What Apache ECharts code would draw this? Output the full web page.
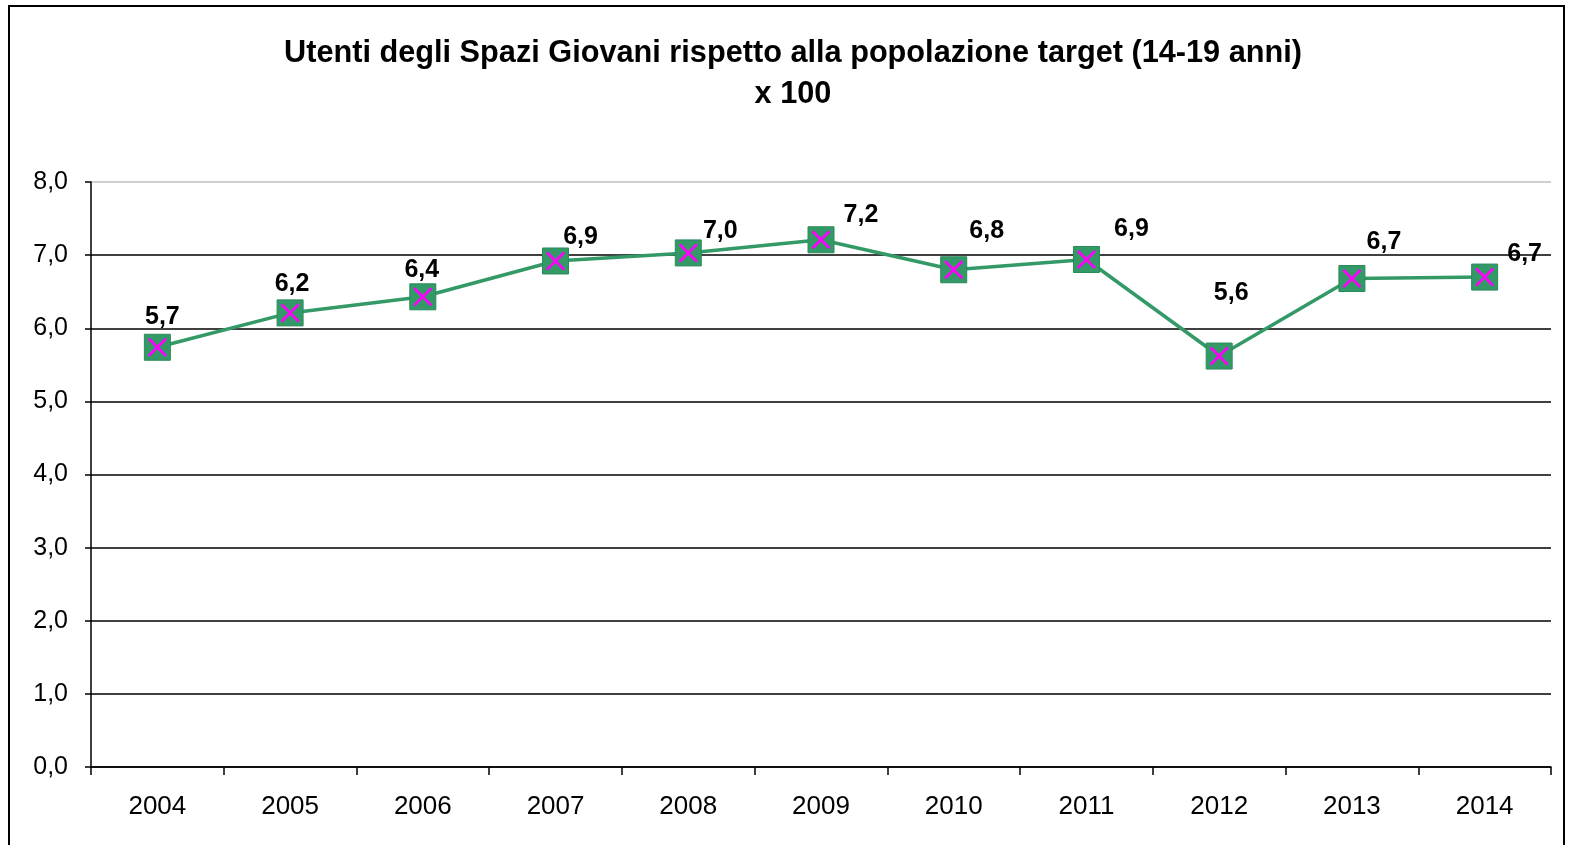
<!DOCTYPE html>
<html>
<head>
<meta charset="utf-8">
<script src="https://cdn.jsdelivr.net/npm/echarts@6/dist/echarts.min.js"></script>
<style>html,body{margin:0;padding:0;background:#fff}#c{width:1569px;height:845px}</style>
</head>
<body>
<div id="c"></div>
<script>
const categories = ['2004','2005','2006','2007','2008','2009','2010','2011','2012','2013','2014'];
const values = [5.74, 6.21, 6.43, 6.92, 7.03, 7.21, 6.80, 6.94, 5.62, 6.68, 6.70];
const yTicks = [0, 1, 2, 3, 4, 5, 6, 7, 8];
const titleText = 'Utenti degli Spazi Giovani rispetto alla popolazione target (14-19 anni)\nx 100';

// label placement offsets (style, not data)
const labelShift = [[5,-30],[2,-29],[-1,-27],[25,-24],[32,-22],[40,-25],[33,-39],[45,-30],[12,-63],[32,-36],[40,-23]];

const fmt = v => v.toFixed(1).replace('.', ',');
const FONT = '"Liberation Sans", Arial, sans-serif';
const green = '#339966';
const xPath = 'path://M0,1L1,0L10,9L9,10Z M9,0L10,1L1,10L0,9Z';

const chart = echarts.init(document.getElementById('c'), null, {renderer:'canvas'});
chart.setOption({
  animation: false,
  backgroundColor: '#fff',
  title: {
    text: titleText,
    left: 788, top: 28, textAlign: 'center',
    textStyle: {fontFamily: FONT, fontWeight: 'bold', fontSize: 30.7, color: '#000', lineHeight: 41}
  },
  graphic: [{
    type: 'rect', shape: {x: 9, y: 6, width: 1555, height: 860},
    style: {fill: 'none', stroke: '#000', lineWidth: 2}, silent: true, z: -1
  }],
  grid: {left: 91, right: 18, top: 182, bottom: 78, containLabel: false},
  xAxis: {
    type: 'category', data: categories, boundaryGap: true,
    axisLine: {lineStyle: {color: '#000', width: 1.5}},
    axisTick: {show: true, alignWithLabel: false, length: 8, lineStyle: {color: '#000', width: 1.5}},
    axisLabel: {fontFamily: FONT, fontSize: 26, color: '#000', margin: 27},
    splitLine: {show: false}
  },
  yAxis: {
    type: 'value', min: yTicks[0], max: yTicks[yTicks.length-1], interval: 1,
    axisLine: {show: true, lineStyle: {color: '#000', width: 1.5}},
    axisTick: {show: true, inside: false, length: 6, lineStyle: {color: '#000', width: 1.5}},
    axisLabel: {fontFamily: FONT, fontSize: 25, color: '#000', margin: 23, formatter: v => fmt(v)},
    splitLine: {show: true, lineStyle: {color: ['#000','#000','#000','#000','#000','#000','#000','#000','#c0c0c0'], width: 1.5}}
  },
  series: [{
    type: 'line', data: values.map((v,i)=>({value: v, label: {offset: labelShift[i]}})),
    lineStyle: {color: green, width: 3.5},
    symbol: 'rect', symbolSize: 26, showAllSymbol: true,
    itemStyle: {color: green, borderColor: '#2a8a5a', borderWidth: 1, opacity: 1},
    label: {show: true, position: 'inside', fontFamily: FONT, fontWeight: 'bold', fontSize: 25, color: '#000',
      align: 'center', verticalAlign: 'middle', formatter: p => fmt(p.value)},
    z: 3
  },{
    type: 'scatter', data: values, symbol: xPath, symbolSize: 19,
    itemStyle: {color: '#ff00ff', opacity: 1}, silent: true, z: 4
  }]
});
</script>
</body>
</html>
